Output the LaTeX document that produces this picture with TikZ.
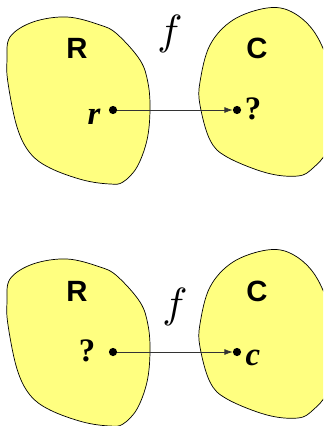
\documentclass[tikz,border=0pt]{standalone}
\usepackage{fontspec}
\setmainfont{Liberation Serif}
\newfontfamily\setfont{Liberation Sans}
\usetikzlibrary{arrows.meta}
\definecolor{blobyellow}{RGB}{255,255,128}

\begin{document}
\begin{tikzpicture}[
  x=0.03cm, y=-0.03cm,
  blob/.style={fill=blobyellow, draw=black, line width=0.6pt},
  setname/.style={font=\setfont\bfseries\fontsize{25}{25}\selectfont, anchor=base},
  elem/.style={font=\bfseries\itshape\fontsize{28}{28}\selectfont, anchor=base},
  unknown/.style={font=\bfseries\fontsize{28}{28}\selectfont, anchor=base},
  point/.style={circle, fill=black, inner sep=0pt, minimum size=7pt},
  arrow/.style={-{Latex[length=7pt,width=5pt]}, line width=0.6pt, color=black!80}
]
\useasboundingbox (0,0) rectangle (323,426);
\clip (0,0) rectangle (323,426);

% Top: r in R, image unknown
\draw[blob] plot[smooth cycle, tension=0.6] coordinates {
  (10,37) (33,22) (67,17) (100,25) (117,34) (140,60) (148,83) (150,110)
  (147,140) (137,167) (123,182) (110,184) (83,180) (50,168) (30,153)
  (17,127) (8,83) (7,60)};
\draw[blob] plot[smooth cycle, tension=0.6] coordinates {
  (200,82) (210,45) (233,20) (267,8) (292,12) (315,33) (330,70) (333,115)
  (327,150) (313,168) (298,176) (267,173) (227,157) (210,140) (200,105)};

\node[setname] (R1) at (77,59) {R};
\node[setname] (C1) at (257,59) {C};
\node (f1) at (170,34) {\scalebox{3.6}{$f$}};

\node[point] (r1) at (113,110) {};
\node[point] (q1) at (237,110) {};
\node[elem] (rlabel) at (94,124) {r};
\node[unknown] (qlabel1) at (253,119) {?};
\draw[arrow] (r1) -- (q1);

% Bottom: preimage unknown, c in C
\begin{scope}[shift={(0,242)}]
\draw[blob] plot[smooth cycle, tension=0.6] coordinates {
  (10,37) (33,22) (67,17) (100,25) (117,34) (140,60) (148,83) (150,110)
  (147,140) (137,167) (123,182) (110,184) (83,180) (50,168) (30,153)
  (17,127) (8,83) (7,60)};
\draw[blob] plot[smooth cycle, tension=0.6] coordinates {
  (200,82) (210,45) (233,20) (267,8) (292,12) (315,33) (330,70) (333,115)
  (327,150) (313,168) (298,176) (267,173) (227,157) (210,140) (200,105)};
\end{scope}

\node[setname] (R2) at (77,301) {R};
\node[setname] (C2) at (257,301) {C};
\node (f2) at (175,307) {\scalebox{3.6}{$f$}};

\node[point] (q2) at (113,352) {};
\node[point] (c2) at (237,352) {};
\node[unknown] (qlabel2) at (87,361) {?};
\node[elem] (clabel) at (253,365) {c};
\draw[arrow] (q2) -- (c2);

\end{tikzpicture}
\end{document}
